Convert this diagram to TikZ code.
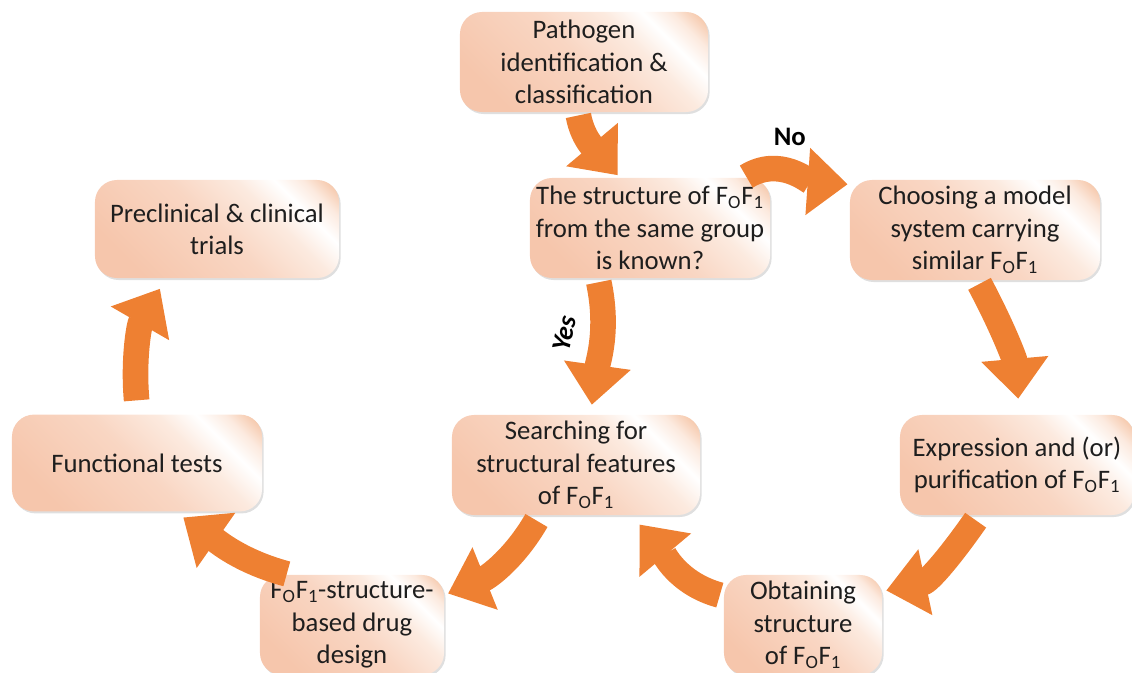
\documentclass[tikz,border=0pt]{standalone}
\usepackage{fontspec}
\setmainfont{Carlito}
\usetikzlibrary{arrows.meta,shadows}
\definecolor{floworange}{RGB}{238,128,50}
\definecolor{peachdark}{RGB}{246,198,172}
\definecolor{peach}{RGB}{249,214,195}
\definecolor{peachlight}{RGB}{252,234,223}
\definecolor{cornerorange}{RGB}{240,170,125}
\definecolor{textdark}{RGB}{30,30,30}
\pgfdeclarehorizontalshading{boxglow}{100bp}{color(0bp)=(peachdark); color(25bp)=(peachdark); color(50bp)=(peach); color(64bp)=(peachlight); color(72bp)=(white); color(78bp)=(peachlight); color(88bp)=(cornerorange); color(100bp)=(cornerorange)}
\newcommand{\fof}{F\textsubscript{O}F\textsubscript{1}}

\begin{document}
\begin{tikzpicture}[x=0.025cm,y=0.025cm,>=Latex]
\tikzstyle{box}=[rounded corners=0.55cm,shading=boxglow,shading angle=45,minimum height=2.5cm,align=center,text=textdark,font=\fontsize{19}{23}\selectfont,inner sep=0.1cm,drop shadow={shadow xshift=0.04cm,shadow yshift=-0.05cm,opacity=0.25,fill=gray}]
\tikzstyle{flow}=[line width=0.64cm,floworange,-{Triangle[width=1.62cm,length=1.0cm]}]
\useasboundingbox (0,0) rectangle (1132,-672);
% steps of the cycle
\node[box,minimum width=6.2cm] (pathogen) at (584,-62) {Pathogen\\identification \&\\classification};
\node[box,minimum width=6.0cm] (known) at (650,-228) {The structure of \fof\\from the same group\\is known?};
\node[box,minimum width=6.25cm] (model) at (975,-230) {Choosing a model\\system carrying\\similar \fof};
\node[box,minimum width=6.1cm,minimum height=2.45cm] (trials) at (217,-229) {Preclinical \& clinical\\trials};
\node[box,minimum width=6.25cm,minimum height=2.42cm] (tests) at (137,-463) {Functional tests};
\node[box,minimum width=6.2cm] (search) at (576,-465) {Searching for\\structural features\\of \fof};
\node[box,minimum width=5.85cm] (expr) at (1017,-465) {Expression and (or)\\purification of \fof};
\node[box,minimum width=4.6cm] (design) at (352,-625) {\fof-structure-\\based drug\\design};
\node[box,minimum width=3.95cm] (obtain) at (803,-625) {Obtaining\\structure\\of \fof};
% arrows
\draw[flow,shorten <=0.08cm,shorten >=0.08cm] (pathogen.-97) to[out=-80,in=130] (known.121);
\draw[flow,shorten <=0.05cm,shorten >=0.05cm] (known.28) to[out=32,in=176] node[pos=0.45,above=0.3cm,inner sep=0pt,text=black,font=\fontsize{19}{23}\selectfont\bfseries] {No} (model.160);
\draw[flow,shorten <=0.1cm,shorten >=0.25cm] (known.-136) to[out=-78,in=82] node[pos=0.4,xshift=-0.95cm,rotate=78,text=black,font=\fontsize{19}{23}\selectfont\bfseries\itshape] {Yes} (search.74);
\draw[flow,shorten <=0.1cm,shorten >=0.4cm] (model.-87) to[out=-62,in=95] (expr.87);
\draw[flow,shorten <=0.15cm,shorten >=0.1cm] (expr.-127) to[out=-125,in=12] (obtain.23);
\draw[flow,shorten <=0.1cm,shorten >=0.3cm] (obtain.160) to[out=165,in=-50] (search.-42);
\draw[flow,shorten <=0.15cm,shorten >=0.1cm] (search.-126) to[out=-120,in=22] (design.18);
\draw[flow,shorten <=0.08cm,shorten >=0.25cm] (design.141) to[out=165,in=-35] (tests.-52);
\draw[flow,shorten <=0.35cm,shorten >=0.3cm] (tests.89) to[out=95,in=-120] (trials.-136);
\end{tikzpicture}
\end{document}
